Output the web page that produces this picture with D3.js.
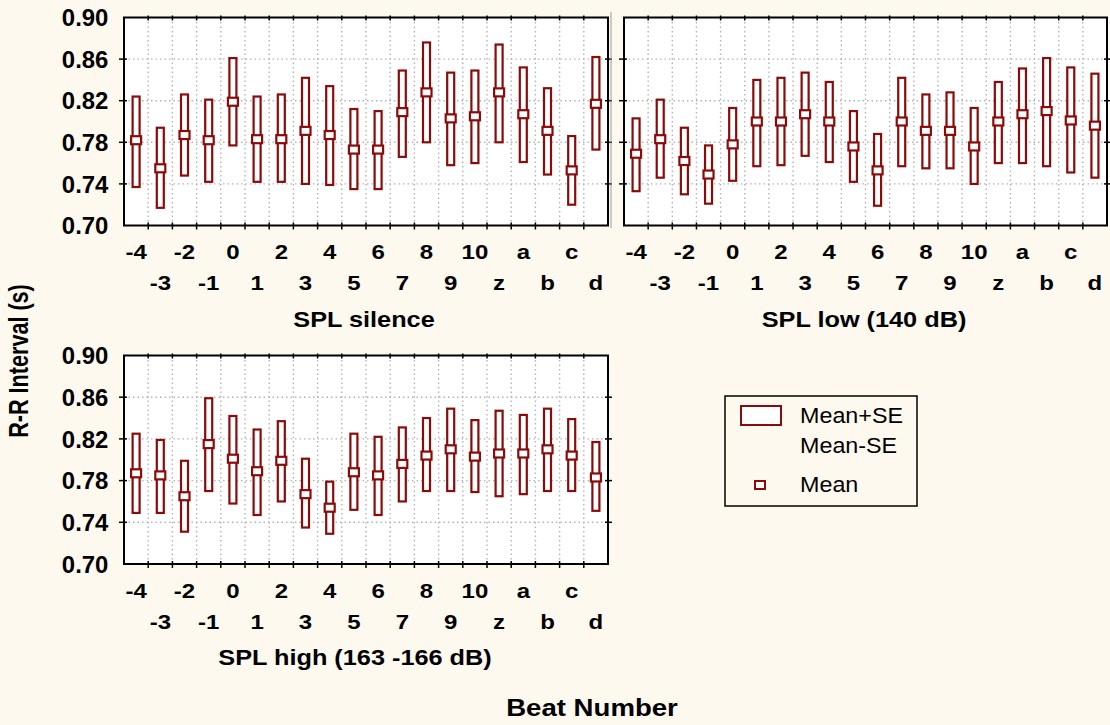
<!DOCTYPE html>
<html>
<head>
<meta charset="utf-8">
<script src="https://cdn.jsdelivr.net/npm/d3@7"></script>
<style>
  html, body { margin: 0; padding: 0; background: #fdf9ef; }
  svg { display: block; }
  text { font-family: "Liberation Sans", Arial, sans-serif; fill: #000; }
</style>
</head>
<body>
<svg id="chart" width="1110" height="725"></svg>
<script>
// Beat labels along the x axis
const beats = ["-4","-3","-2","-1","0","1","2","3","4","5","6","7","8","9","10","z","a","b","c","d"];
const yTicks = [0.70, 0.74, 0.78, 0.82, 0.86, 0.90];

// SPL silence
const silenceMean  = [0.782,0.755,0.787,0.782,0.819,0.783,0.783,0.791,0.787,0.773,0.773,0.809,0.828,0.803,0.805,0.828,0.807,0.791,0.753,0.817];
const silenceUpper = [0.824,0.794,0.826,0.821,0.861,0.824,0.826,0.842,0.834,0.812,0.810,0.849,0.876,0.847,0.849,0.874,0.852,0.832,0.786,0.862];
const silenceLower = [0.737,0.717,0.748,0.742,0.777,0.742,0.742,0.740,0.739,0.735,0.735,0.766,0.780,0.758,0.760,0.780,0.761,0.749,0.720,0.773];

// SPL low (140 dB)
const lowMean  = [0.769,0.783,0.762,0.749,0.778,0.800,0.800,0.807,0.800,0.776,0.753,0.800,0.791,0.791,0.776,0.800,0.807,0.810,0.801,0.796];
const lowUpper = [0.803,0.821,0.794,0.777,0.813,0.840,0.842,0.847,0.838,0.810,0.788,0.842,0.826,0.828,0.813,0.838,0.851,0.861,0.852,0.846];
const lowLower = [0.733,0.746,0.730,0.721,0.743,0.757,0.758,0.767,0.761,0.742,0.719,0.757,0.755,0.755,0.740,0.760,0.760,0.757,0.751,0.746];

// SPL high (163 -166 dB)
const highMean  = [0.787,0.785,0.765,0.815,0.801,0.789,0.799,0.767,0.754,0.788,0.785,0.796,0.804,0.810,0.803,0.806,0.806,0.810,0.804,0.783];
const highUpper = [0.825,0.819,0.799,0.859,0.842,0.829,0.837,0.801,0.779,0.825,0.822,0.831,0.840,0.849,0.838,0.847,0.843,0.849,0.839,0.817];
const highLower = [0.749,0.749,0.731,0.770,0.758,0.747,0.760,0.735,0.729,0.752,0.747,0.760,0.770,0.770,0.769,0.765,0.767,0.770,0.770,0.751];

const DARK_RED = "#8b0a0a";
const svg = d3.select("#chart");

// horizontally widened bold label
function wideText(parent, x, y, str, size, sx, anchor) {
  return parent.append("text")
    .attr("transform", `translate(${x},${y}) scale(${sx},1)`)
    .attr("text-anchor", anchor || "middle")
    .attr("font-size", size).attr("font-weight", "bold")
    .text(str);
}

const panels = [
  { title: "SPL silence", mean: silenceMean, upper: silenceUpper, lower: silenceLower,
    x0: 124, x1: 608, y0: 17.5, y1: 225.5, yLabels: true, titleX: 364 },
  { title: "SPL low (140 dB)", mean: lowMean, upper: lowUpper, lower: lowLower,
    x0: 624, x1: 1107, y0: 17.5, y1: 225.5, yLabels: false, titleX: 864 },
  { title: "SPL high (163 -166 dB)", mean: highMean, upper: highUpper, lower: highLower,
    x0: 124, x1: 608, y0: 355.5, y1: 564, yLabels: true, titleX: 355 }
];

panels.forEach(p => {
  const x = d3.scaleBand().domain(beats).range([p.x0, p.x1]).padding(0);
  const y = d3.scaleLinear().domain([0.70, 0.90]).range([p.y1, p.y0]);
  const g = svg.append("g");

  // plot background
  g.append("rect")
    .attr("x", p.x0).attr("y", p.y0)
    .attr("width", p.x1 - p.x0).attr("height", p.y1 - p.y0)
    .attr("fill", "#fff");

  // dotted grid: band boundaries and inner y ticks
  const bounds = beats.slice(1).map(b => x(b));
  g.selectAll("line.vg").data(bounds).join("line")
    .attr("x1", d => d).attr("x2", d => d)
    .attr("y1", p.y0).attr("y2", p.y1)
    .attr("stroke", "#b4b4b4").attr("stroke-width", 1.4)
    .attr("stroke-dasharray", "1.5,3");
  g.selectAll("line.hg").data(yTicks.slice(1, -1)).join("line")
    .attr("x1", p.x0).attr("x2", p.x1)
    .attr("y1", d => y(d)).attr("y2", d => y(d))
    .attr("stroke", "#b4b4b4").attr("stroke-width", 1.4)
    .attr("stroke-dasharray", "1.5,3");

  // tick marks on all four edges
  const tk = g.append("g").attr("stroke", "#000").attr("stroke-width", 1.5);
  bounds.forEach(bx => {
    tk.append("line").attr("x1", bx).attr("x2", bx).attr("y1", p.y1 - 3).attr("y2", p.y1 + 4);
    tk.append("line").attr("x1", bx).attr("x2", bx).attr("y1", p.y0 - 2).attr("y2", p.y0 + 3);
  });
  yTicks.slice(1, -1).forEach(v => {
    tk.append("line").attr("x1", p.x0 - 5).attr("x2", p.x0 + 3).attr("y1", y(v)).attr("y2", y(v));
    tk.append("line").attr("x1", p.x1 - 3).attr("x2", p.x1 + 4).attr("y1", y(v)).attr("y2", y(v));
  });

  // SE bars
  const bw = 7;
  g.selectAll("rect.se").data(beats).join("rect")
    .attr("x", d => x(d) + x.bandwidth() / 2 - bw / 2)
    .attr("y", (d, i) => y(p.upper[i]))
    .attr("width", bw)
    .attr("height", (d, i) => y(p.lower[i]) - y(p.upper[i]))
    .attr("fill", "#fff").attr("stroke", DARK_RED).attr("stroke-width", 2.2);

  // mean markers
  const mw = 10, mh = 8;
  g.selectAll("rect.mean").data(beats).join("rect")
    .attr("x", d => x(d) + x.bandwidth() / 2 - mw / 2)
    .attr("y", (d, i) => y(p.mean[i]) - mh / 2)
    .attr("width", mw).attr("height", mh)
    .attr("fill", "#fff").attr("stroke", DARK_RED).attr("stroke-width", 2.2);

  // frame
  g.append("rect")
    .attr("x", p.x0).attr("y", p.y0)
    .attr("width", p.x1 - p.x0).attr("height", p.y1 - p.y0)
    .attr("fill", "none").attr("stroke", "#000").attr("stroke-width", 2);

  // y tick labels
  if (p.yLabels) {
    const ya = d3.axisLeft(y).tickValues(yTicks).tickFormat(d3.format(".2f"))
      .tickSize(0).tickPadding(15);
    const yg = g.append("g").attr("transform", `translate(${p.x0},0)`).call(ya);
    yg.select(".domain").remove();
    yg.selectAll("text")
      .attr("font-family", "Liberation Sans, Arial, sans-serif")
      .attr("font-size", 23).attr("font-weight", "bold").attr("dy", "0.36em")
      .attr("transform", "scale(1.04,1)");
  }

  // x tick labels, staggered on two rows
  const xa = d3.axisBottom(x).tickSize(0).tickPadding(0);
  const xg = g.append("g").attr("transform", `translate(0,${p.y1})`).call(xa);
  xg.select(".domain").remove();
  xg.selectAll("text")
    .attr("font-family", "Liberation Sans, Arial, sans-serif")
    .attr("font-size", 20).attr("font-weight", "bold")
    .attr("y", (d, i) => i % 2 === 0 ? 34 : 65).attr("dy", 0)
    .attr("transform", "scale(1.2,1)");

  // panel title
  wideText(g, p.titleX, p.y1 + 101, p.title, 22, 1.15);
});

// separator between the top two panels
svg.append("line").attr("x1", 611).attr("x2", 611).attr("y1", 12).attr("y2", 228)
  .attr("stroke", "#9a9a9a").attr("stroke-width", 1);

// axis titles
svg.append("text")
  .attr("transform", "translate(28,361) rotate(-90) scale(0.8,1)")
  .attr("text-anchor", "middle")
  .attr("font-size", 27).attr("font-weight", "bold")
  .text("R-R Interval (s)");
wideText(svg, 592, 716, "Beat Number", 23, 1.2);

// legend
const lg = svg.append("g");
lg.append("rect").attr("x", 725).attr("y", 396).attr("width", 192).attr("height", 110)
  .attr("fill", "none").attr("stroke", "#000").attr("stroke-width", 1.5);
lg.append("rect").attr("x", 741).attr("y", 406).attr("width", 40).attr("height", 19)
  .attr("fill", "#fff").attr("stroke", DARK_RED).attr("stroke-width", 2);
lg.append("rect").attr("x", 755).attr("y", 481).attr("width", 10).attr("height", 8)
  .attr("fill", "#fff").attr("stroke", DARK_RED).attr("stroke-width", 2);
[["Mean+SE", 423], ["Mean-SE", 453], ["Mean", 492]].forEach(([t, yy]) => {
  lg.append("text")
    .attr("transform", `translate(800,${yy}) scale(1.06,1)`)
    .attr("font-size", 22).text(t);
});
</script>
</body>
</html>
